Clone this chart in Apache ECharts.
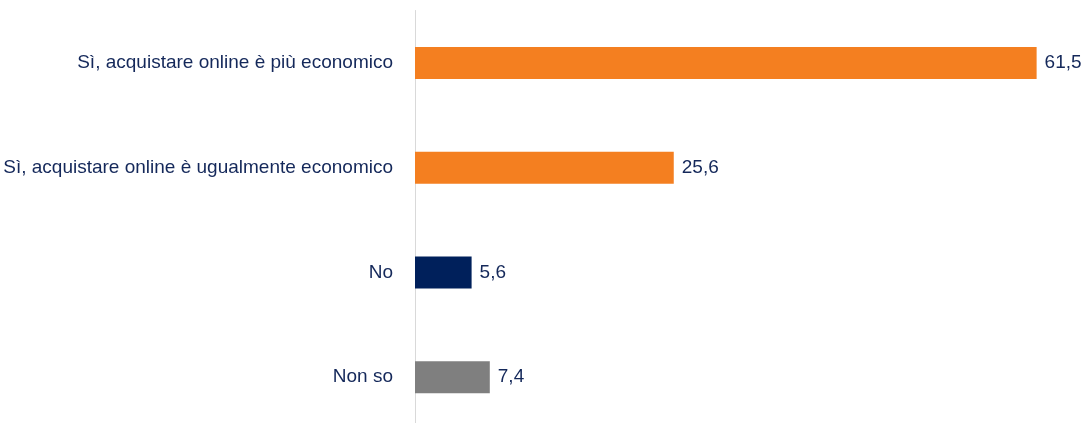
<!DOCTYPE html>
<html><head><meta charset="utf-8">
<script src="https://cdn.jsdelivr.net/npm/echarts@6/dist/echarts.min.js"></script>
<style>html,body{margin:0;padding:0;background:#fff;overflow:hidden}#c{width:1086px;height:440px}</style>
</head><body><div id="c"></div>
<script>
const categories = ["Sì, acquistare online è più economico", "Sì, acquistare online è ugualmente economico", "No", "Non so"];
const values = [61.5, 25.6, 5.6, 7.4];
const colors = ["#F47F20", "#F47F20", "#00205B", "#7F7F7F"];
const FONT = "'Liberation Sans Narrow', 'Arial Narrow', 'Liberation Sans', sans-serif";
const chart = echarts.init(document.getElementById('c'), null, {renderer: 'canvas'});
chart.setOption({
  animation: false,
  grid: {left: 415, top: 10.5, width: 657, height: 419, containLabel: false},
  xAxis: {type: 'value', min: 0, max: 65, show: false},
  yAxis: {
    type: 'category', data: categories, inverse: true,
    axisLine: {show: true, lineStyle: {color: '#D9D9D9', width: 1}},
    axisTick: {show: false},
    axisLabel: {color: '#14285A', fontSize: 19, fontFamily: FONT, margin: 22}
  },
  series: [{
    type: 'bar', barWidth: 32,
    data: values.map((v, i) => ({value: v, itemStyle: {color: colors[i]}})),
    label: {show: true, position: 'right', distance: 8, color: '#14285A', fontSize: 19, fontFamily: FONT,
      formatter: p => String(p.value).replace('.', ',')}
  }]
});
</script></body></html>
